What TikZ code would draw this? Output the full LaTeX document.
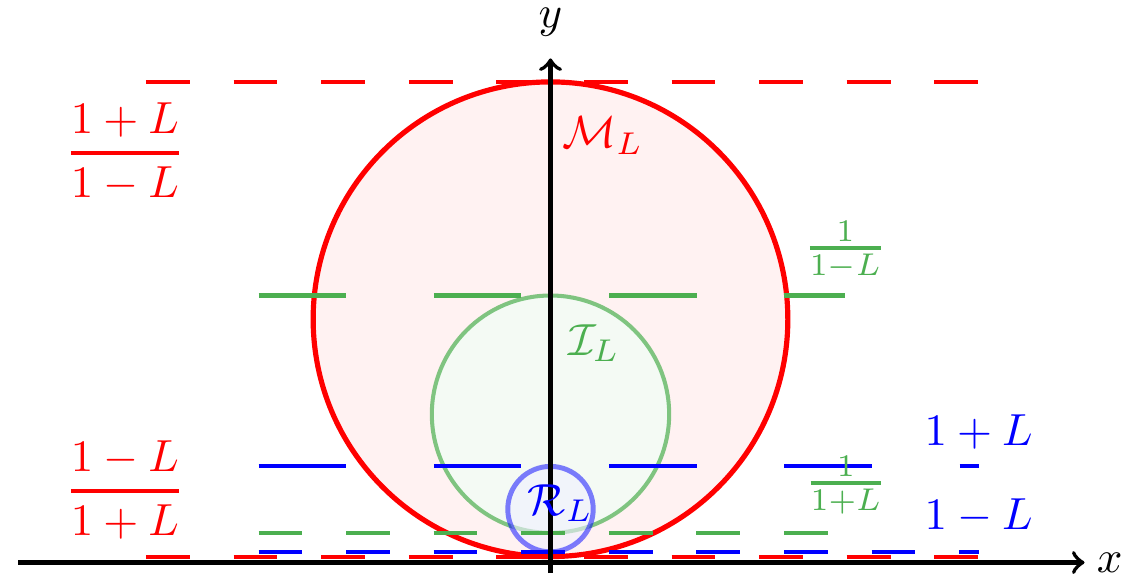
\documentclass[tikz,border=0pt]{standalone}
\usepackage{amsmath}
\definecolor{mygreen}{RGB}{76,175,80}
\begin{document}
\begin{tikzpicture}[x=11.876pt,y=11.876pt,
  axisline/.style={line width=0.9pt,->},
  shortdash/.style={line width=0.9pt,dash pattern=on 9.74pt off 9.74pt},
  longdash/.style={line width=0.9pt,dash pattern=on 19.49pt off 19.49pt},
  lbl/.style={anchor=base,inner sep=0pt}]
\useasboundingbox (-10.309,-0.1966) rectangle (10.758,10.534);
% circles
\coordinate (cM) at (0,4.5556);
\coordinate (cI) at (0,2.7778);
\coordinate (cR) at (0,1);
\draw[red,line width=1.15pt,fill=red,fill opacity=0.05] (cM) circle (4.4444);
\draw[mygreen,draw opacity=0.7,line width=0.9pt,fill=mygreen!6] (cI) circle (2.2222);
\draw[blue,draw opacity=0.5,fill=blue!6,fill opacity=0.6,line width=1.1pt] (cR) circle (0.8);
% dashed levels
\coordinate (rTl) at (-7.575,9);      \coordinate (rTr) at (8.02,9);
\coordinate (rBl) at (-7.575,0.1111); \coordinate (rBr) at (8.02,0.1111);
\coordinate (gTl) at (-5.468,5);      \coordinate (gTr) at (5.511,5);
\coordinate (gBl) at (-5.468,0.5556); \coordinate (gBr) at (5.511,0.5556);
\coordinate (bTl) at (-5.468,1.8);    \coordinate (bTr) at (8.02,1.8);
\coordinate (bBl) at (-5.468,0.2);    \coordinate (bBr) at (8.02,0.2);
\draw[red,shortdash] (rTl) -- (rTr);
\draw[red,shortdash] (rBl) -- (rBr);
\draw[mygreen,longdash] (gTl) -- (gTr);
\draw[mygreen,shortdash] (gBl) -- (gBr);
\draw[blue,longdash] (bTl) -- (bTr);
\draw[blue,shortdash] (bBl) -- (bBr);
% axes
\coordinate (xs) at (-9.97,0); \coordinate (xe) at (10,0);
\coordinate (ys) at (0,-0.2);  \coordinate (ye) at (0,9.44);
\draw[axisline] (xs) -- (xe);
\draw[axisline] (ys) -- (ye);
\node[inner sep=0pt] (xl) at (10.47,0) {$x$};
\node[inner sep=0pt] (yl) at (0,10.11) {$y$};
% labels
\node[lbl,red] (fracTop) at (-7.97,7.462) {$\genfrac{}{}{0.9pt}{0}{1+L}{1-L}$};
\node[lbl,red] (fracBot) at (-7.97,1.1275) {$\genfrac{}{}{0.9pt}{0}{1-L}{1+L}$};
\node[lbl,mygreen] (gTop) at (5.52,5.675) {$\genfrac{}{}{0.9pt}{1}{1}{1-L}$};
\node[lbl,mygreen] (gBot) at (5.53,1.277) {$\genfrac{}{}{0.9pt}{1}{1}{1+L}$};
\node[lbl,blue] (bTop) at (8.018,2.199) {$1+L$};
\node[lbl,blue] (bBot) at (8.018,0.627) {$1-L$};
\node[lbl,red] (ML) at (0.982,7.775) {$\mathcal{M}_L$};
\node[lbl,mygreen] (IL) at (0.814,3.883) {$\mathcal{I}_L$};
\node[lbl,blue] (RL) at (0.187,0.889) {$\mathcal{R}_L$};
\end{tikzpicture}
\end{document}
